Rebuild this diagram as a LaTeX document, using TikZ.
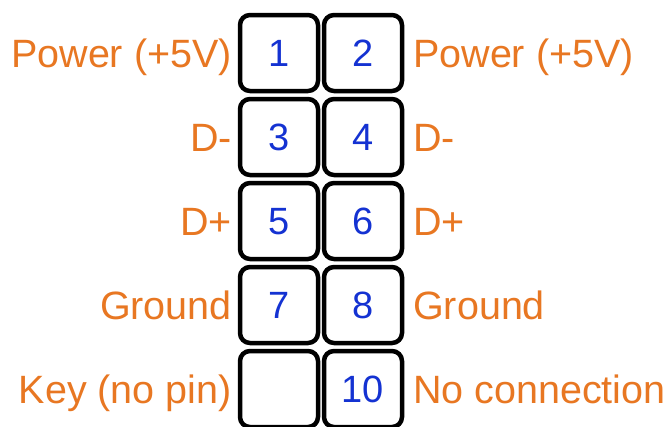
\documentclass[tikz,border=0pt]{standalone}
\usepackage{fontspec}
\setmainfont{Liberation Sans}
\definecolor{lblorange}{HTML}{E87722}
\definecolor{numblue}{HTML}{1432D2}
\begin{document}
\begin{tikzpicture}[x=1pt,y=-1pt,
  pinbox/.style={draw=black,line width=4.5pt,rounded corners=10pt,minimum width=78pt,minimum height=76pt,inner sep=0pt,fill=white},
  pinnum/.style={text=numblue,inner sep=0pt,font=\fontsize{38}{38}\selectfont,anchor=base},
  lbl/.style={text=lblorange,inner sep=0pt,font=\fontsize{39.5}{39.5}\selectfont}]
\useasboundingbox[fill=white] (0,0) rectangle (667,426);
% boxes
\foreach \r/\a/\b in {0/1/2,1/3/4,2/5/6,3/7/8,4/9/10}{
  \node[pinbox] (p\a) at (279,53+84*\r) {};
  \node[pinbox] (p\b) at (363,53+84*\r) {};
}
% numbers
\foreach \r/\a/\b in {0/1/2,1/3/4,2/5/6,3/7/8}{
  \node[pinnum] (n\a) at ([yshift=-13.5pt]p\a.center) {\a};
  \node[pinnum] (n\b) at ([yshift=-13.5pt]p\b.center) {\b};
}
\node[pinnum] (n10) at ([yshift=-13.5pt]p10.center) {10};
% left labels
\node[lbl,anchor=base east] (l1) at (232,53+14) {Power (+5V)};
\node[lbl,anchor=base east] (l3) at (232,137+14) {D-};
\node[lbl,anchor=base east] (l5) at (232,221+14) {D+};
\node[lbl,anchor=base east] (l7) at (232,305+14) {Ground};
\node[lbl,anchor=base east] (l9) at (232,389+14) {Key (no pin)};
% right labels
\node[lbl,anchor=base west] (l2) at (413,53+14) {Power (+5V)};
\node[lbl,anchor=base west] (l4) at (413,137+14) {D-};
\node[lbl,anchor=base west] (l6) at (413,221+14) {D+};
\node[lbl,anchor=base west] (l8) at (413,305+14) {Ground};
\node[lbl,anchor=base west] (l10) at (413,389+14) {No connection};
\end{tikzpicture}
\end{document}
